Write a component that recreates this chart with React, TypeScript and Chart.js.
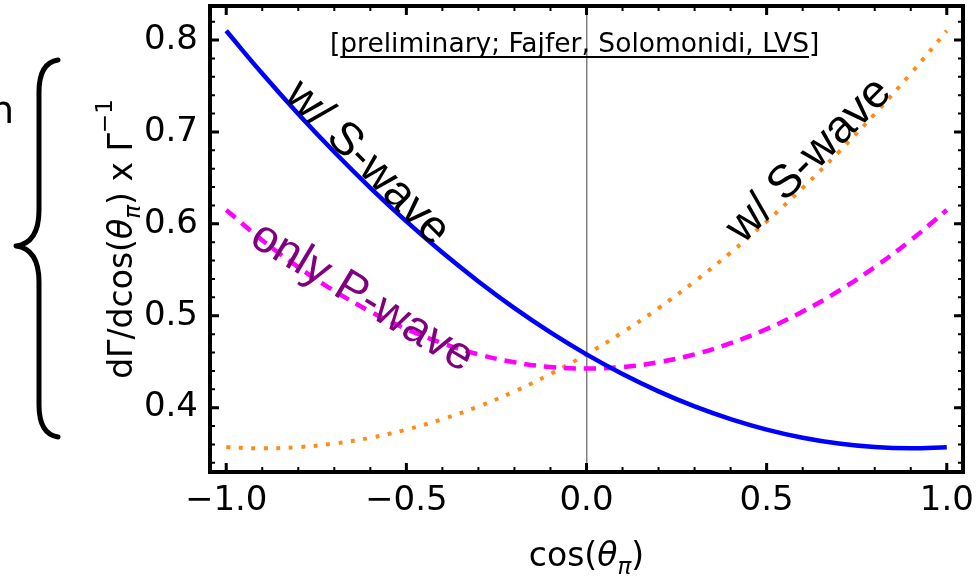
import React, { useEffect, useRef } from "react";
import { Chart, registerables } from "chart.js";

Chart.register(...registerables);

// ---- data ----
const cosTheta = [-1, -0.9, -0.8, -0.7, -0.6, -0.5, -0.4, -0.3, -0.2, -0.1, 0, 0.1, 0.2, 0.3, 0.4, 0.5, 0.6, 0.7, 0.8, 0.9, 1];
const withSWaveBlue = [0.810, 0.7635, 0.7195, 0.6781, 0.6391, 0.6026, 0.5687, 0.5373, 0.5083, 0.4819, 0.458, 0.4366, 0.4177, 0.4013, 0.3875, 0.3761, 0.3673, 0.3610, 0.3571, 0.3558, 0.357];
const withSWaveOrange = [0.357, 0.3558, 0.3571, 0.3610, 0.3673, 0.3761, 0.3875, 0.4013, 0.4177, 0.4366, 0.458, 0.4819, 0.5083, 0.5373, 0.5687, 0.6026, 0.6391, 0.6781, 0.7195, 0.7635, 0.810];
const onlyPWave = [0.615, 0.5822, 0.5529, 0.5270, 0.5046, 0.4856, 0.4701, 0.4580, 0.4494, 0.4442, 0.4425, 0.4442, 0.4494, 0.4580, 0.4701, 0.4856, 0.5046, 0.5270, 0.5529, 0.5822, 0.615];

const xTickValues = [-1, -0.5, 0, 0.5, 1];
const xMinorTicks = [-1.0, -0.9, -0.8, -0.7, -0.6, -0.5, -0.4, -0.3, -0.2, -0.1, 0, 0.1, 0.2, 0.3, 0.4, 0.5, 0.6, 0.7, 0.8, 0.9, 1.0];
const yTickValues = [0.4, 0.5, 0.6, 0.7, 0.8];
const yMinorTicks = [0.34, 0.36, 0.38, 0.4, 0.42, 0.44, 0.46, 0.48, 0.5, 0.52, 0.54, 0.56, 0.58, 0.6, 0.62, 0.64, 0.66, 0.68, 0.7, 0.72, 0.74, 0.76, 0.78, 0.8, 0.82];

const curveLabels = [
  { text: "w/ S-wave", x: -0.609, y: 0.666, angle: 45, color: "#000000" },
  { text: "w/ S-wave", x: 0.618, y: 0.669, angle: -45, color: "#000000" },
  { text: "only P-wave", x: -0.623, y: 0.52, angle: 31, color: "#800080" },
];
const noteText = { before: "[", main: "preliminary; Fajfer, Solomonidi, LVS", after: "]", x: -0.033, y: 0.787 };
const xTitleParts = [
  { t: "cos(" },
  { t: "θ", it: true },
  { t: "π", it: true, sub: true },
  { t: ")" },
];
const yTitleParts = [
  { t: "dΓ/dcos(" },
  { t: "θ", it: true },
  { t: "π", it: true, sub: true },
  { t: ") x Γ" },
  { t: "−1", sup: true },
];

const fmtTick = (v: number) => (v < 0 ? "\u2212" : "") + Math.abs(v).toFixed(1);

function richFont(p: any, size: number) {
  const s = p.sub || p.sup ? size * 0.7 : size;
  return `${p.it ? "italic " : ""}${s}px "DejaVu Sans"`;
}
function drawRich(ctx: CanvasRenderingContext2D, parts: any[], cx: number, baseline: number, size: number) {
  let total = 0;
  for (const p of parts) {
    ctx.font = richFont(p, size);
    total += ctx.measureText(p.t).width;
  }
  let x = cx - total / 2;
  ctx.textAlign = "left";
  ctx.textBaseline = "alphabetic";
  for (const p of parts) {
    ctx.font = richFont(p, size);
    const dy = p.sub ? size * 0.25 : p.sup ? -size * 0.62 : 0;
    ctx.fillText(p.t, x, baseline + dy);
    x += ctx.measureText(p.t).width;
  }
}

const decorPlugin = {
  id: "decor",
  afterDraw(chart: any) {
    const { ctx, chartArea: a, scales } = chart;
    const xs = scales.x;
    const ys = scales.y;
    ctx.save();
    ctx.fillStyle = "#000";
    ctx.strokeStyle = "#000";
    ctx.lineCap = "butt";

    // inward ticks on all four sides
    const drawXT = (vals: number[], len: number, w: number) => {
      ctx.lineWidth = w;
      for (const v of vals) {
        const px = xs.getPixelForValue(v);
        ctx.beginPath();
        ctx.moveTo(px, a.bottom);
        ctx.lineTo(px, a.bottom - len);
        ctx.moveTo(px, a.top);
        ctx.lineTo(px, a.top + len);
        ctx.stroke();
      }
    };
    const drawYT = (vals: number[], len: number, w: number) => {
      ctx.lineWidth = w;
      for (const v of vals) {
        const py = ys.getPixelForValue(v);
        ctx.beginPath();
        ctx.moveTo(a.left, py);
        ctx.lineTo(a.left + len, py);
        ctx.moveTo(a.right, py);
        ctx.lineTo(a.right - len, py);
        ctx.stroke();
      }
    };
    drawXT(xMinorTicks, 5, 2);
    drawXT(xTickValues, 9, 3);
    drawYT(yMinorTicks, 5, 2);
    drawYT(yTickValues, 9, 3);

    // frame
    ctx.lineWidth = 4;
    ctx.strokeRect(a.left, a.top, a.right - a.left, a.bottom - a.top);

    // curve labels
    for (const l of curveLabels) {
      ctx.save();
      ctx.translate(xs.getPixelForValue(l.x), ys.getPixelForValue(l.y));
      ctx.rotate((l.angle * Math.PI) / 180);
      ctx.font = '46px "Liberation Sans"';
      ctx.fillStyle = l.color;
      ctx.textAlign = "center";
      ctx.textBaseline = "middle";
      ctx.fillText(l.text, 0, 0);
      ctx.restore();
    }

    // note
    {
      const size = 26.5;
      ctx.font = `${size}px "DejaVu Sans"`;
      const wB = ctx.measureText(noteText.before).width;
      const wM = ctx.measureText(noteText.main).width;
      const wA = ctx.measureText(noteText.after).width;
      const cx = xs.getPixelForValue(noteText.x);
      const by = ys.getPixelForValue(noteText.y);
      let x0 = cx - (wB + wM + wA) / 2;
      ctx.textAlign = "left";
      ctx.textBaseline = "alphabetic";
      ctx.fillText(noteText.before, x0, by);
      ctx.fillText(noteText.main, x0 + wB, by);
      ctx.fillText(noteText.after, x0 + wB + wM, by);
      ctx.lineWidth = 2;
      ctx.beginPath();
      ctx.moveTo(x0 + wB, by + 5);
      ctx.lineTo(x0 + wB + wM, by + 5);
      ctx.stroke();
    }

    // axis titles
    ctx.fillStyle = "#000";
    drawRich(ctx, xTitleParts, (a.left + a.right) / 2, a.bottom + 94, 33);
    ctx.save();
    ctx.translate(a.left - 78, (a.top + a.bottom) / 2);
    ctx.rotate(-Math.PI / 2);
    drawRich(ctx, yTitleParts, 0, 0, 33);
    ctx.restore();

    // left decoration: cut-off letter and brace
    ctx.font = '38px "DejaVu Sans"';
    ctx.textAlign = "left";
    ctx.textBaseline = "alphabetic";
    ctx.fillText("n", -10, 123);
    ctx.lineWidth = 5;
    ctx.lineCap = "round";
    ctx.lineJoin = "round";
    ctx.beginPath();
    ctx.moveTo(58, 60);
    ctx.quadraticCurveTo(39, 63, 39, 92);
    ctx.lineTo(39, 210);
    ctx.quadraticCurveTo(39, 243, 16, 246);
    ctx.quadraticCurveTo(39, 249, 39, 282);
    ctx.lineTo(39, 405);
    ctx.quadraticCurveTo(39, 434, 58, 437);
    ctx.stroke();

    ctx.restore();
  },
};

export default function App() {
  const ref = useRef<HTMLCanvasElement | null>(null);
  useEffect(() => {
    if (!ref.current) return;
    const pts = (ys: number[]) => cosTheta.map((x, i) => ({ x, y: ys[i] }));
    const chart = new Chart(ref.current, {
      type: "line",
      data: {
        datasets: [
          { data: pts(withSWaveBlue), borderColor: "#0000ff", borderWidth: 4.5, pointRadius: 0, tension: 0.4, fill: false },
          { data: pts(onlyPWave), borderColor: "#ff00ff", borderWidth: 4.5, borderDash: [12, 8], pointRadius: 0, tension: 0.4, fill: false },
          { data: pts(withSWaveOrange), borderColor: "#ff8c1a", borderWidth: 4, borderDash: [4, 8.5], pointRadius: 0, tension: 0.4, fill: false },
        ],
      },
      options: {
        animation: false,
        responsive: false,
        maintainAspectRatio: false,
        layout: { padding: { left: 0, right: 16, top: 6, bottom: 0 } },
        plugins: { legend: { display: false }, tooltip: { enabled: false } },
        scales: {
          x: {
            type: "linear",
            min: -1.045,
            max: 1.045,
            afterBuildTicks: (s: any) => {
              s.ticks = xTickValues.map((v) => ({ value: v }));
            },
            afterFit: (s: any) => {
              s.height = 107;
              s.paddingLeft = 0;
              s.paddingRight = 0;
            },
            grid: {
              drawTicks: false,
              lineWidth: 1.5,
              color: (c: any) => (c.tick && c.tick.value === 0 ? "#808080" : "rgba(0,0,0,0)"),
            },
            border: { display: false },
            ticks: {
              padding: 9,
              color: "#000",
              maxRotation: 0,
              autoSkip: false,
              font: { family: "DejaVu Sans", size: 34 },
              callback: (v: any) => fmtTick(Number(v)),
            },
          },
          y: {
            type: "linear",
            min: 0.33,
            max: 0.837,
            afterBuildTicks: (s: any) => {
              s.ticks = yTickValues.map((v) => ({ value: v }));
            },
            afterFit: (s: any) => {
              s.width = 210;
              s.paddingTop = 0;
              s.paddingBottom = 0;
            },
            grid: { display: false, drawTicks: false },
            border: { display: false },
            ticks: {
              padding: 12,
              color: "#000",
              autoSkip: false,
              font: { family: "DejaVu Sans", size: 34 },
              callback: (v: any) => fmtTick(Number(v)),
            },
          },
        },
      },
      plugins: [decorPlugin],
    });
    return () => chart.destroy();
  }, []);
  return (
    <div style={{ position: "fixed", left: 0, top: 0, width: 979, height: 579, background: "#fff" }}>
      <canvas ref={ref} width={979} height={579} style={{ display: "block" }} />
    </div>
  );
}
